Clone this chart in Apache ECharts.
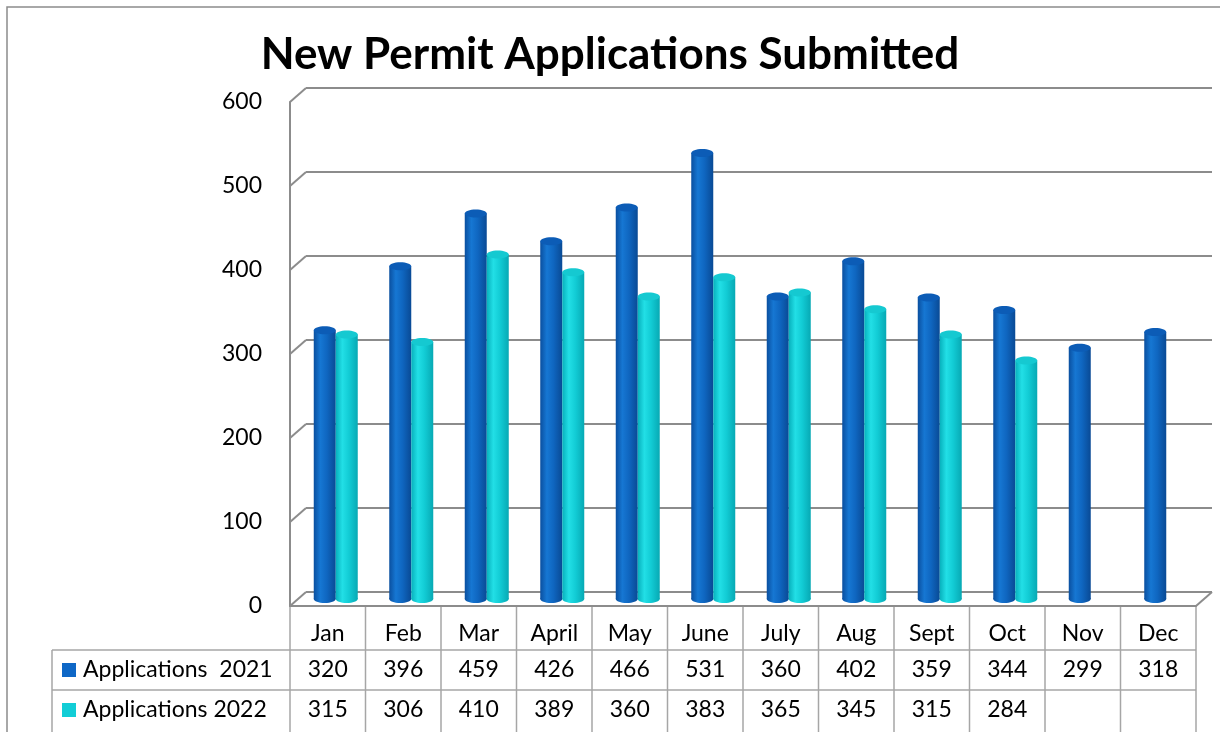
<!DOCTYPE html>
<html>
<head>
<meta charset="utf-8">
<script src="https://cdn.jsdelivr.net/npm/echarts@6/dist/echarts.min.js"></script>
<style>
  html, body { margin: 0; padding: 0; background: #fff; }
  #chart { width: 1220px; height: 732px; }
</style>
</head>
<body>
<div id="chart"></div>
<script>
// chart data
const months = ['Jan', 'Feb', 'Mar', 'April', 'May', 'June', 'July', 'Aug', 'Sept', 'Oct', 'Nov', 'Dec'];
const apps2021 = [320, 396, 459, 426, 466, 531, 360, 402, 359, 344, 299, 318];
const apps2022 = [315, 306, 410, 389, 360, 383, 365, 345, 315, 284, null, null];
const yTicks = [0, 100, 200, 300, 400, 500, 600];
const seriesNames = ['Applications  2021', 'Applications 2022'];

const FONT = 'Lato, "Open Sans", sans-serif';
const TXT = 23;
const GRID_LINE = '#8c8c8c';
const DEPTH_X = 16, DEPTH_Y = -14;
const PLOT_LEFT = 290, PLOT_TOP = 102, PLOT_W = 906, PLOT_H = 504;
const BAR_W = 22;

const chart = echarts.init(document.getElementById('chart'));

function grad(stops) {
  return new echarts.graphic.LinearGradient(0, 0, 1, 0, stops);
}
const blueBody = grad([
  { offset: 0, color: '#0a4f9f' }, { offset: 0.3, color: '#1677d3' },
  { offset: 0.6, color: '#0f66c0' }, { offset: 1, color: '#094a95' }
]);
const cyanBody = grad([
  { offset: 0, color: '#07b0bc' }, { offset: 0.3, color: '#22dfe6' },
  { offset: 0.6, color: '#12ccd5' }, { offset: 1, color: '#07a9b4' }
]);

function cylinder(shift, body, cap) {
  return function (params, api) {
    const v = api.value(1);
    if (v == null || isNaN(v)) return;
    const top = api.coord([api.value(0), v]);
    const base = api.coord([api.value(0), 0]);
    const cx = top[0] + shift;
    const rx = BAR_W / 2, ry = 4;
    return {
      type: 'group',
      children: [
        { type: 'ellipse', shape: { cx: cx, cy: base[1], rx: rx, ry: ry }, style: { fill: body } },
        { type: 'rect', shape: { x: cx - rx, y: top[1], width: BAR_W, height: base[1] - top[1] }, style: { fill: body } },
        { type: 'ellipse', shape: { cx: cx, cy: top[1], rx: rx, ry: ry }, style: { fill: cap } }
      ]
    };
  };
}

// diagonal connectors between front axis and back wall
function depthLines(params, api) {
  const v = api.value(0);
  const p = api.coord([0, v]);
  const x0 = params.coordSys.x;
  const children = [{
    type: 'line',
    shape: { x1: x0, y1: p[1], x2: x0 + DEPTH_X, y2: p[1] + DEPTH_Y },
    style: { stroke: GRID_LINE, lineWidth: 2 }
  }];
  if (v === 0) {
    const x1 = x0 + params.coordSys.width;
    children.push({
      type: 'line',
      shape: { x1: x1, y1: p[1], x2: x1 + DEPTH_X, y2: p[1] + DEPTH_Y },
      style: { stroke: GRID_LINE, lineWidth: 2 }
    });
  }
  return { type: 'group', children: children };
}

// data table below the plot
function buildTable() {
  const els = [];
  const colW = PLOT_W / months.length;
  const rowTop = PLOT_TOP + PLOT_H;
  const r1 = 650, r2 = 690, r3 = 745;
  const tableLeft = 52;
  const line = (x1, y1, x2, y2) => ({
    type: 'line', shape: { x1, y1, x2, y2 }, style: { stroke: '#a6a6a6', lineWidth: 1.5 }, silent: true
  });
  for (let i = 0; i <= months.length; i++) {
    els.push(line(PLOT_LEFT + i * colW, rowTop, PLOT_LEFT + i * colW, r3));
  }
  els.push(line(tableLeft, r1, PLOT_LEFT + PLOT_W, r1));
  els.push(line(tableLeft, r2, PLOT_LEFT + PLOT_W, r2));
  els.push(line(tableLeft, r1, tableLeft, r3));
  const rows = [[apps2021, 670, '#0e67c6'], [apps2022, 710, '#12cdd6']];
  rows.forEach((row, ri) => {
    const vals = row[0], y = row[1];
    els.push({ type: 'rect', shape: { x: 62, y: y - 7, width: 14, height: 14 }, style: { fill: row[2] } });
    els.push({
      type: 'text', x: 83, y: y,
      style: { text: seriesNames[ri], font: TXT + 'px ' + FONT, fill: '#000', textVerticalAlign: 'middle' }
    });
    vals.forEach((v, i) => {
      if (v == null) return;
      els.push({
        type: 'text', x: PLOT_LEFT + (i + 0.5) * colW, y: y,
        style: { text: String(v), font: TXT + 'px ' + FONT, fill: '#000', textAlign: 'center', textVerticalAlign: 'middle' }
      });
    });
  });
  return els;
}

const option = {
  animation: false,
  title: {
    text: 'New Permit Applications Submitted',
    left: 'center',
    top: 28,
    textStyle: { fontFamily: FONT, fontSize: 44, fontWeight: 'bold', color: '#000' }
  },
  graphic: [
    { type: 'rect', shape: { x: 7, y: 7, width: 1240, height: 760 }, style: { fill: 'none', stroke: '#8c8c8c', lineWidth: 1.5 }, silent: true }
  ].concat(buildTable()),
  grid: [
    // back wall
    { left: PLOT_LEFT + DEPTH_X, top: PLOT_TOP + DEPTH_Y, width: PLOT_W, height: PLOT_H },
    // front plane
    { left: PLOT_LEFT, top: PLOT_TOP, width: PLOT_W, height: PLOT_H },
    // bars at mid depth
    { left: PLOT_LEFT + DEPTH_X / 2, top: PLOT_TOP + DEPTH_Y / 2, width: PLOT_W, height: PLOT_H }
  ],
  xAxis: [
    { gridIndex: 0, type: 'category', data: months, show: false },
    {
      gridIndex: 1, type: 'category', data: months,
      axisLine: { lineStyle: { color: GRID_LINE, width: 2 } },
      axisTick: { show: false },
      axisLabel: { margin: 16, fontFamily: FONT, fontSize: TXT, color: '#000' }
    },
    { gridIndex: 2, type: 'category', data: months, show: false }
  ],
  yAxis: [
    {
      gridIndex: 0, type: 'value', min: 0, max: 600, interval: 100,
      axisLine: { show: false }, axisTick: { show: false }, axisLabel: { show: false },
      splitLine: { lineStyle: { color: GRID_LINE, width: 2 } }
    },
    {
      gridIndex: 1, type: 'value', min: 0, max: 600, interval: 100,
      axisLine: { show: true, lineStyle: { color: GRID_LINE, width: 2 } },
      axisTick: { show: false }, splitLine: { show: false },
      axisLabel: { margin: 28, fontFamily: FONT, fontSize: TXT, color: '#000' }
    },
    { gridIndex: 2, type: 'value', min: 0, max: 600, show: false }
  ],
  series: [
    {
      type: 'custom', xAxisIndex: 1, yAxisIndex: 1,
      data: yTicks.map(v => [v]),
      encode: { y: 0 },
      renderItem: depthLines, silent: true
    },
    {
      name: seriesNames[0], type: 'custom', xAxisIndex: 2, yAxisIndex: 2,
      data: apps2021.map((v, i) => [i, v]),
      renderItem: cylinder(-BAR_W / 2, blueBody, '#0c5cb6')
    },
    {
      name: seriesNames[1], type: 'custom', xAxisIndex: 2, yAxisIndex: 2,
      data: apps2022.map((v, i) => [i, v]),
      renderItem: cylinder(BAR_W / 2, cyanBody, '#15c9d1')
    }
  ]
};

chart.setOption(option);
</script>
</body>
</html>
